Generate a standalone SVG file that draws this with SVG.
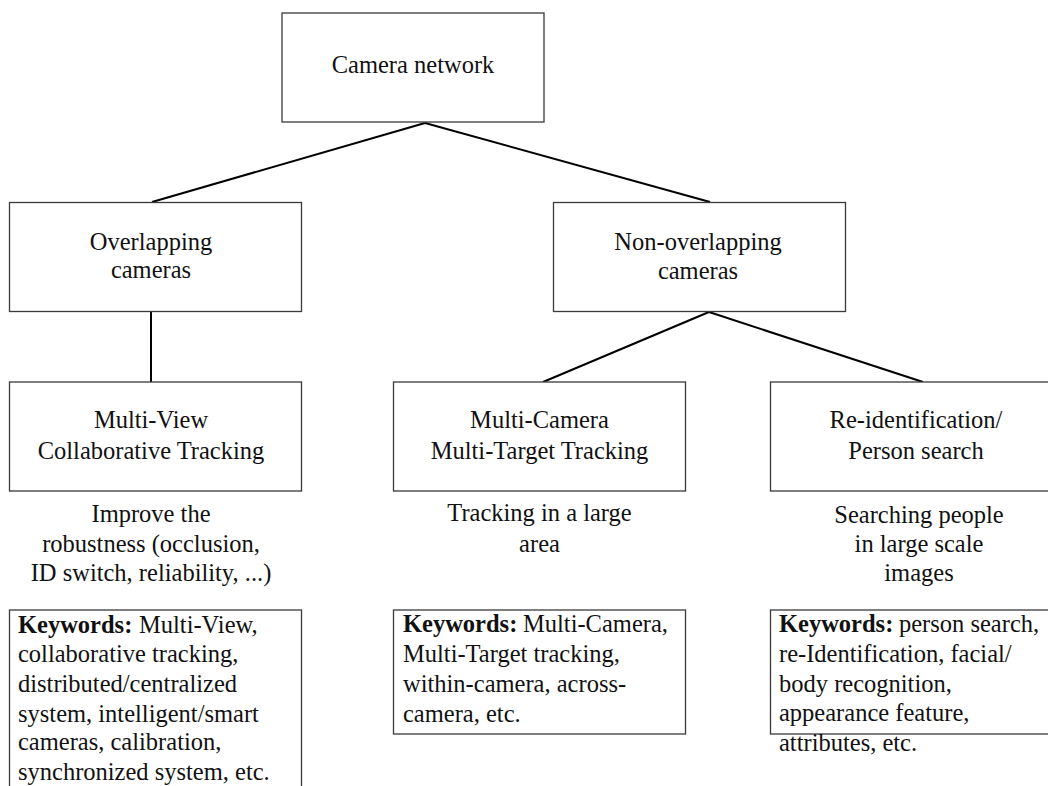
<svg xmlns="http://www.w3.org/2000/svg" width="1048" height="786" viewBox="0 0 1048 786">
<style>
.box{fill:#fff;stroke:#3a3a3a;stroke-width:1.3}
.t{font-family:"Liberation Serif","Times New Roman",serif;font-size:24.5px;fill:#111}
.c{text-anchor:middle}
.b{font-weight:bold}
.con{stroke:#000;stroke-width:2;fill:none}
</style>
<rect width="1048" height="786" fill="#fff"/>
<g id="connectors">
<line class="con" x1="425" y1="123" x2="152" y2="202"/>
<line class="con" x1="425" y1="123" x2="710" y2="202"/>
<line class="con" x1="151" y1="311" x2="151" y2="382"/>
<line class="con" x1="709" y1="312" x2="543" y2="382"/>
<line class="con" x1="709" y1="312" x2="923" y2="382"/>
</g>
<g id="camera-network">
<rect class="box" x="282" y="13" width="262" height="109"/>
<text class="t c" x="413" y="73">Camera network</text>
</g>
<g id="overlapping">
<rect class="box" x="9.5" y="202.5" width="292" height="109"/>
<text class="t c" x="151" y="250">Overlapping</text>
<text class="t c" x="151" y="278">cameras</text>
</g>
<g id="non-overlapping">
<rect class="box" x="553.5" y="202.5" width="292" height="109"/>
<text class="t c" x="698" y="250">Non-overlapping</text>
<text class="t c" x="698" y="279">cameras</text>
</g>
<g id="multi-view">
<rect class="box" x="9.5" y="382" width="292" height="109"/>
<text class="t c" x="151" y="428">Multi-View</text>
<text class="t c" x="151" y="459">Collaborative Tracking</text>
</g>
<g id="mcmt">
<rect class="box" x="393.5" y="382" width="292" height="109"/>
<text class="t c" x="539.5" y="428">Multi-Camera</text>
<text class="t c" x="539.5" y="459">Multi-Target Tracking</text>
</g>
<g id="reid">
<rect class="box" x="770.5" y="382" width="293" height="109"/>
<text class="t c" x="916" y="428">Re-identification/</text>
<text class="t c" x="916" y="459">Person search</text>
</g>
<g id="desc-left">
<text class="t c" x="151" y="522">Improve the</text>
<text class="t c" x="151" y="552">robustness (occlusion,</text>
<text class="t c" x="151" y="581">ID switch, reliability, ...)</text>
</g>
<g id="desc-mid">
<text class="t c" x="539.5" y="521">Tracking in a large</text>
<text class="t c" x="539.5" y="552">area</text>
</g>
<g id="desc-right">
<text class="t c" x="919" y="523">Searching people</text>
<text class="t c" x="919" y="552">in large scale</text>
<text class="t c" x="919" y="581">images</text>
</g>
<g id="keywords-left">
<rect class="box" x="9.5" y="610" width="292" height="190"/>
<text class="t" x="18" y="633"><tspan class="b">Keywords:</tspan><tspan x="139">Multi-View,</tspan></text>
<text class="t" x="18" y="662">collaborative tracking,</text>
<text class="t" x="18" y="692">distributed/centralized</text>
<text class="t" x="18" y="722">system, intelligent/smart</text>
<text class="t" x="18" y="750">cameras, calibration,</text>
<text class="t" x="18" y="780">synchronized system, etc.</text>
</g>
<g id="keywords-mid">
<rect class="box" x="393.5" y="610" width="292" height="124"/>
<text class="t" x="403" y="632"><tspan class="b">Keywords:</tspan><tspan x="523">Multi-Camera,</tspan></text>
<text class="t" x="403" y="662">Multi-Target tracking,</text>
<text class="t" x="403" y="692">within-camera, across-</text>
<text class="t" x="403" y="722">camera, etc.</text>
</g>
<g id="keywords-right">
<rect class="box" x="770.5" y="610" width="293" height="124"/>
<text class="t" x="779" y="632"><tspan class="b">Keywords:</tspan><tspan x="899">person search,</tspan></text>
<text class="t" x="779" y="662">re-Identification, facial/</text>
<text class="t" x="779" y="692">body recognition,</text>
<text class="t" x="779" y="721">appearance feature,</text>
<text class="t" x="779" y="751">attributes, etc.</text>
</g>
</svg>
